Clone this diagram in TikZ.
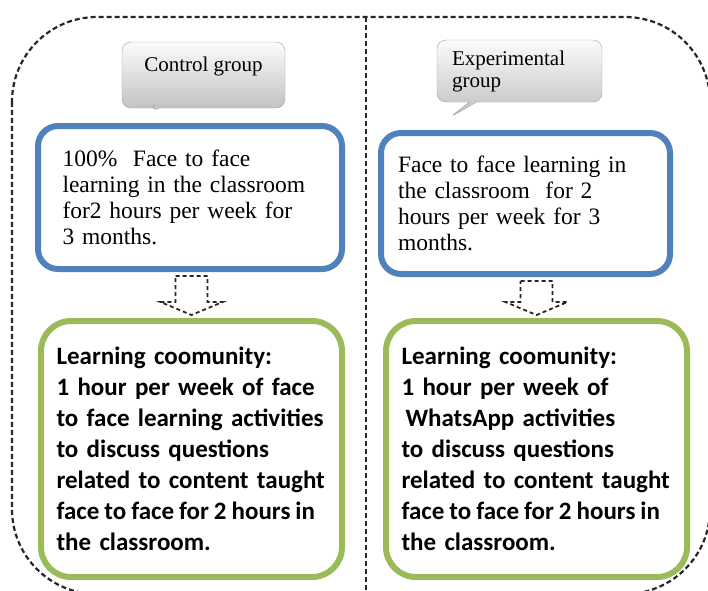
\documentclass[tikz,border=0pt]{standalone}
\usepackage{fontspec}
\setmainfont{Liberation Serif}
\newfontfamily\calibri{Carlito}
\usetikzlibrary{
    positioning,
    shapes.callouts,
    calc
}
\definecolor{boxblue}{HTML}{4F81BD}
\definecolor{boxgreen}{HTML}{9BBB59}
\tikzset{
    frame/.style={draw=black!85, line width=2.2pt, dash pattern=on 5pt off 3pt},
    divider/.style={draw=black!85, line width=1.6pt, dash pattern=on 5pt off 3pt},
    bubble/.style={rectangle callout, rounded corners=9pt, draw=gray!75, thin,
        top color=gray!3, bottom color=gray!50, inner sep=0pt,
        font=\fontsize{21}{22}\selectfont},
    plan/.style={draw=boxblue, line width=6pt, rounded corners=20pt, fill=white,
        inner sep=0pt, text width=255pt, align=left,
        font=\fontsize{23.5}{26}\selectfont},
    task/.style={draw=boxgreen, line width=6pt, rounded corners=30pt, fill=white,
        inner sep=0pt, text width=270pt, align=left,
        minimum width=301pt, minimum height=256pt,
        font=\calibri\bfseries\fontsize{25}{31}\selectfont},
    darrow/.style={draw=black!85, line width=1.8pt, dash pattern=on 4pt off 3pt},
}
% hollow dashed arrow from one box down to the next
\newcommand{\hollowarrow}[2]{%
  \draw[darrow] let \p1=(#1.south), \p2=(#2.north) in
    (\x2-16pt,\y1-4pt) -- (\x2+16pt,\y1-4pt) -- (\x2+16pt,\y2+16pt)
    -- (\x2+31pt,\y2+16pt) -- (\x2,\y2+3pt) -- (\x2-31pt,\y2+16pt)
    -- (\x2-16pt,\y2+16pt) -- cycle;
}
\newcommand{\tightline}[1]{\mbox{\spaceskip=0.2em\relax #1}}

\begin{document}
\begin{tikzpicture}[x=1pt,y=-1pt,on grid]
   \useasboundingbox (0,0) rectangle (708,590);
   \draw[frame,rounded corners=85pt] (12,17) rectangle (710,594);
   \coordinate (top) at (366,17);
   \coordinate (bottom) at (366,594);
   \draw[divider] (top) -- (bottom);
   \coordinate (tipL) at (150,112);
   \coordinate (tipR) at (449,118);

   % control group
   \node[plan,minimum width=304pt,minimum height=143pt] (bL) at (190,197.5)
     {100\%\ \ Face to face\\ learning in the classroom\\ for2 hours per week for\\ 3 months.};
   \node[bubble,minimum width=163pt,minimum height=66pt,align=center,
         callout absolute pointer={(tipL)}] (cL) [above right=122.5pt and 13.5pt of bL]
     {Control group\\ \mbox{}};
   \node[task] (gL) [below right=251.5pt and 1.5pt of bL]
     {Learning coomunity:\\ 1 hour per week of face\\ to face learning activities\\ to discuss questions\\ related to content taught\\ \tightline{face to face for 2 hours in}\\ the classroom.};

   % experimental group
   \node[plan,minimum width=289pt,minimum height=141pt] (bR) at (525.5,203.5)
     {Face to face learning in\\ the classroom\ \ for 2\\ hours per week for 3\\ months.};
   \node[bubble,minimum width=165pt,minimum height=62pt,text width=135pt,align=left,
         callout absolute pointer={(tipR)}] (cR) [above left=132.5pt and 6pt of bR]
     {Experimental\\ group};
   \node[task] (gR) [below right=245.5pt and 11pt of bR]
     {Learning coomunity:\\ 1 hour per week of\\ \hspace*{4pt}WhatsApp activities\\ to discuss questions\\ related to content taught\\ \tightline{face to face for 2 hours in}\\ the classroom.};

   \hollowarrow{bL}{gL}
   \hollowarrow{bR}{gR}
\end{tikzpicture}
\end{document}
